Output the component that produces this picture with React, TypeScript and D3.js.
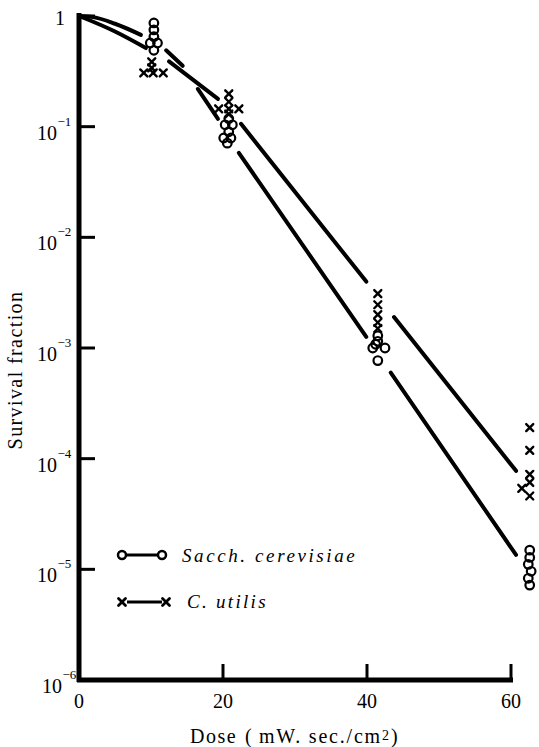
import React from "react";
import * as d3 from "d3";

// ---- data ----
const xTicks = [0, 20, 40, 60];
const yDecades = [0, -1, -2, -3, -4, -5, -6];

// fitted curves (dose, survival) and the drawn pieces (index ranges into the knots)
const sacchFitDose = [0, 2, 5, 8.6, 12.1, 14.4, 16.5, 19.3, 22.2, 39.9, 43.3, 60.7];
const sacchFitSurvival = [1, 0.977, 0.851, 0.676, 0.49, 0.355, 0.219, 0.1175, 0.058, 1.26e-3, 6.0e-4, 1.35e-5];
const sacchFitPieces = [[0, 3], [4, 5], [6, 7], [8, 9], [10, 11]];

const utilisFitDose = [0, 0.7, 5, 9.3, 12.5, 19.3, 22.5, 39.9, 43.75, 60.7];
const utilisFitSurvival = [1, 0.959, 0.724, 0.513, 0.389, 0.178, 0.106, 3.98e-3, 1.905e-3, 7.76e-5];
const utilisFitPieces = [[0, 3], [4, 5], [6, 7], [8, 9]];

// observed points
const sacchDose = [
  10.4, 10.4, 10.4, 9.9, 10.9, 10.4,
  20.8, 20.3, 21.3, 20.8, 20.1, 21.1, 20.6,
  41.5, 41.5, 41.2, 40.8, 42.5, 41.5,
  62.6, 62.6, 62.4, 62.8, 62.4, 62.6,
];
const sacchSurvival = [
  0.865, 0.75, 0.65, 0.57, 0.57, 0.49,
  0.118, 0.104, 0.104, 0.09, 0.079, 0.079, 0.071,
  1.29e-3, 1.15e-3, 1.08e-3, 1.0e-3, 1.0e-3, 7.7e-4,
  1.49e-5, 1.28e-5, 1.11e-5, 9.6e-6, 8.3e-6, 7.2e-6,
];
const utilisDose = [
  10.1, 10.1, 9.0, 10.3, 11.7,
  20.8, 20.8, 19.4, 20.8, 22.2, 20.8,
  41.5, 41.5, 41.5, 41.5, 41.5,
  62.6, 62.6, 62.6, 62.6, 61.5, 62.6,
];
const utilisSurvival = [
  0.385, 0.34, 0.306, 0.306, 0.306,
  0.198, 0.168, 0.145, 0.145, 0.145, 0.13,
  3.1e-3, 2.46e-3, 2.0e-3, 1.7e-3, 1.5e-3,
  1.91e-4, 1.19e-4, 7.2e-5, 6.1e-5, 5.4e-5, 4.6e-5,
];

const legendLabels = ["Sacch. cerevisiae", "C. utilis"];

const W = 539;
const H = 747;
const FONT = '"Liberation Serif", "Times New Roman", "DejaVu Serif", serif';
const TXT: React.CSSProperties = { fontFamily: FONT };

const x = d3.scaleLinear().domain([0, 60]).range([79, 511]);
const y = d3.scaleLog().domain([1e-6, 1]).range([680, 16]);

const line = d3
  .line<[number, number]>()
  .x((d) => x(d[0]))
  .y((d) => y(d[1]))
  .curve(d3.curveMonotoneX);

function pieces(dose: number[], surv: number[], ranges: number[][]) {
  return ranges.map(([a, b]) => {
    const pts: [number, number][] = [];
    for (let i = a; i <= b; i++) pts.push([dose[i], surv[i]]);
    return line(pts) as string;
  });
}

function Cross({ cx, cy, r, sw }: { cx: number; cy: number; r: number; sw: number }) {
  return (
    <g stroke="#000" strokeWidth={sw} strokeLinecap="round">
      <line x1={cx - r} y1={cy - r} x2={cx + r} y2={cy + r} />
      <line x1={cx - r} y1={cy + r} x2={cx + r} y2={cy - r} />
    </g>
  );
}

export default function App() {
  const x0 = x(0);
  const yBottom = y(1e-6);
  const sacchPaths = pieces(sacchFitDose, sacchFitSurvival, sacchFitPieces);
  const utilisPaths = pieces(utilisFitDose, utilisFitSurvival, utilisFitPieces);

  return (
    <>
      <style>{"body{margin:0}"}</style>
      <svg width={W} height={H} style={{ display: "block", background: "#fff" }}>
        {/* axes */}
        <line x1={x0} y1={y(1) - 3} x2={x0} y2={yBottom + 2} stroke="#000" strokeWidth={5} />
        <line x1={x0 - 2} y1={yBottom} x2={x(60) + 2} y2={yBottom} stroke="#000" strokeWidth={5} />

        {/* y ticks */}
        {yDecades.slice(0, -1).map((e) => (
          <line key={"yt" + e} x1={x0} y1={y(Math.pow(10, e))} x2={x0 + 16} y2={y(Math.pow(10, e))} stroke="#000" strokeWidth={3} />
        ))}
        {/* x ticks */}
        {xTicks.slice(1).map((t) => (
          <line key={"xt" + t} x1={x(t)} y1={yBottom} x2={x(t)} y2={yBottom - 16} stroke="#000" strokeWidth={3} />
        ))}

        {/* y tick labels */}
        {yDecades.map((e) => {
          const ty = y(Math.pow(10, e));
          if (e === 0) {
            return (
              <text key={"yl" + e} x={65} y={ty + 9} fontSize={20} textAnchor="end" style={TXT}>
                1
              </text>
            );
          }
          const dx = e === -6 ? 5 : 0;
          return (
            <g key={"yl" + e}>
              <text x={57 + dx} y={ty + 13} fontSize={20} textAnchor="end" style={TXT}>
                10
              </text>
              <text x={57.5 + dx} y={ty - 1} fontSize={13} style={TXT}>
                {"\u2212" + String(-e)}
              </text>
            </g>
          );
        })}

        {/* x tick labels */}
        {xTicks.map((t) => (
          <text key={"xl" + t} x={x(t)} y={708} fontSize={20} textAnchor="middle" style={TXT}>
            {t}
          </text>
        ))}

        {/* axis titles */}
        <text
          transform={`translate(22,${370}) rotate(-90)`}
          fontSize={20}
          textAnchor="middle"
          letterSpacing={1.4}
          style={TXT}
        >
          Survival fraction
        </text>
        <text y={743} fontSize={20} letterSpacing={1.5} style={TXT}>
          <tspan x={190}>Dose</tspan>
          <tspan x={245}>(</tspan>
          <tspan x={259} letterSpacing={1.8}>mW. sec./cm</tspan>
          <tspan x={382} fontSize={14} dy={-3}>2</tspan>
          <tspan x={391} dy={3}>)</tspan>
        </text>

        {/* fitted curves */}
        {sacchPaths.map((p, i) => (
          <path key={"sp" + i} d={p} fill="none" stroke="#000" strokeWidth={4} strokeLinecap="round" />
        ))}
        {utilisPaths.map((p, i) => (
          <path key={"up" + i} d={p} fill="none" stroke="#000" strokeWidth={4} strokeLinecap="round" />
        ))}

        {/* observations */}
        {sacchDose.map((d, i) => (
          <circle key={"sc" + i} cx={x(d)} cy={y(sacchSurvival[i])} r={4.3} fill="none" stroke="#000" strokeWidth={2.2} />
        ))}
        {utilisDose.map((d, i) => (
          <Cross key={"ux" + i} cx={x(d)} cy={y(utilisSurvival[i])} r={3.5} sw={2.4} />
        ))}

        {/* legend */}
        <g>
          <line x1={126} y1={555} x2={158} y2={555} stroke="#000" strokeWidth={3} />
          <circle cx={122} cy={555} r={4} fill="#fff" stroke="#000" strokeWidth={2.5} />
          <circle cx={162} cy={555} r={4} fill="#fff" stroke="#000" strokeWidth={2.5} />
          <text x={182} y={562} fontSize={19} fontStyle="italic" letterSpacing={2.6} style={TXT}>
            {legendLabels[0]}
          </text>
          <line x1={127} y1={602} x2={162} y2={602} stroke="#000" strokeWidth={3} />
          <Cross cx={122} cy={602} r={3.5} sw={2.8} />
          <Cross cx={166} cy={602} r={3.5} sw={2.8} />
          <text x={187} y={608} fontSize={19} fontStyle="italic" letterSpacing={2.3} style={TXT}>
            {legendLabels[1]}
          </text>
        </g>
      </svg>
    </>
  );
}
